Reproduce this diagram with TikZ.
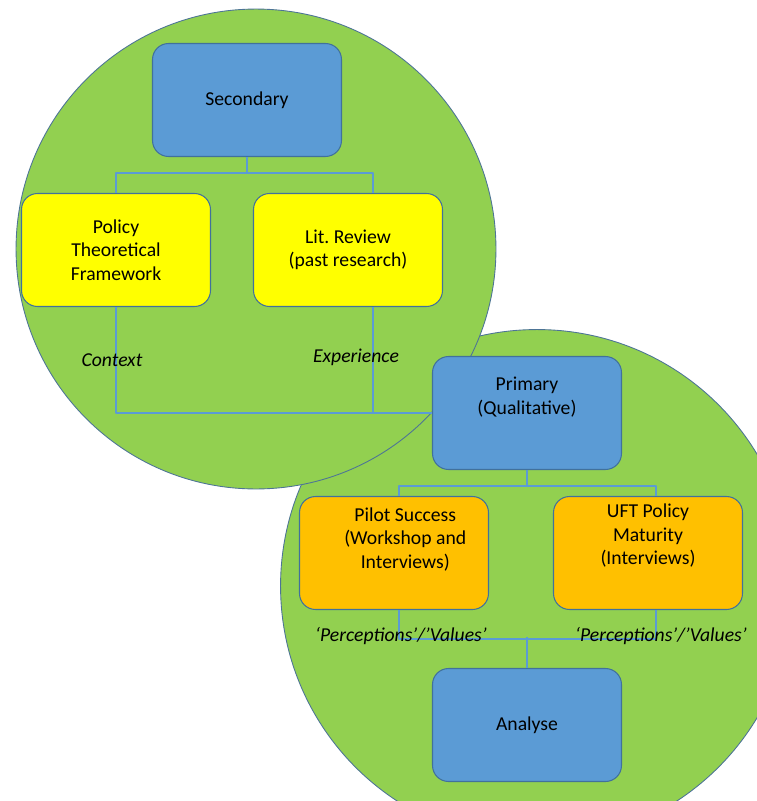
\documentclass[tikz,border=0pt]{standalone}
\usepackage{fontspec}
\setmainfont{Carlito}
\usepackage{xcolor}
\usetikzlibrary{arrows.meta}
\frenchspacing

\definecolor{leaf}{HTML}{92D050}
\definecolor{boxblue}{HTML}{5B9BD5}
\definecolor{edgeblue}{HTML}{41719C}
\definecolor{boxyellow}{HTML}{FFFF00}
\definecolor{boxorange}{HTML}{FFC000}

\begin{document}
\begin{tikzpicture}[line cap=round,line join=round,x=0.02cm,y=-0.02cm,
  stage/.style={draw=edgeblue,line width=0.6pt,rounded corners=0.32cm,
    minimum width=3.78cm,minimum height=2.26cm,align=center,
    font=\fontsize{11.2}{13.4}\selectfont},
  link/.style={draw=boxblue,line width=1.4pt,line cap=butt},
  tag/.style={font=\fontsize{11.2}{13.4}\selectfont\itshape}]

\useasboundingbox (0,0) rectangle (757,801);

% the two spheres
\begin{scope}
\clip (0,0) rectangle (757,801);
\draw [fill=leaf,draw=edgeblue!80!gray,line width=0.5pt] (537,586) circle (5.13cm);
\draw [fill=leaf,draw=edgeblue!80!gray,line width=0.5pt] (256,249) circle (4.8cm);
\end{scope}

% secondary
\node [stage,fill=boxblue] (sec) at (247,100) {Secondary};
\node [stage,fill=boxyellow] (pol) at (116,250) {Policy\\Theoretical\\Framework};
\node [stage,fill=boxyellow] (lit) at (348,250) {Lit. Review\\(past research)};

% primary
\node [stage,fill=boxblue] (pri) at (527,413) {Primary\\(Qualitative)\\[6pt]};
\node [stage,fill=boxorange] (pil) at (394,553) {\hspace{0.45cm}Pilot Success\\\hspace{0.45cm}(Workshop and\\\hspace{0.45cm}Interviews)\\[4pt]};
\node [stage,fill=boxorange] (uft) at (648,553) {UFT Policy\\Maturity\\(Interviews)\\[8pt]};
\node [stage,fill=boxblue] (ana) at (527,725) {Analyse};

% links
\draw [link] (sec.south) -- ++(0,17);
\draw [link] (pol.north) -- ++(0,-20) -| ([xshift=0.5cm]lit.north);
\draw [link] (pol.south) |- (pri.west);
\draw [link] ([xshift=0.5cm]lit.south) -- ([xshift=0.5cm]lit.south |- pri.west);

\draw [link] (pri.south) -- ++(0,17);
\draw [link] ([xshift=0.1cm]pil.north) -- ++(0,-10) -| ([xshift=0.16cm]uft.north);
\draw [link] ([xshift=0.1cm]pil.south) -- ++(0,29) -| ([xshift=0.16cm]uft.south);
\draw [link] (ana.north) -- ++(0,-31);

% labels
\node [tag] (ctx) at (112,360) {Context};
\node [tag] (exp) at (356,357) {Experience};
\node [tag] (pv1) at (401,636) {‘Perceptions’/’Values’};
\node [tag] (pv2) at (661,636) {‘Perceptions’/’Values’};
\end{tikzpicture}
\end{document}
